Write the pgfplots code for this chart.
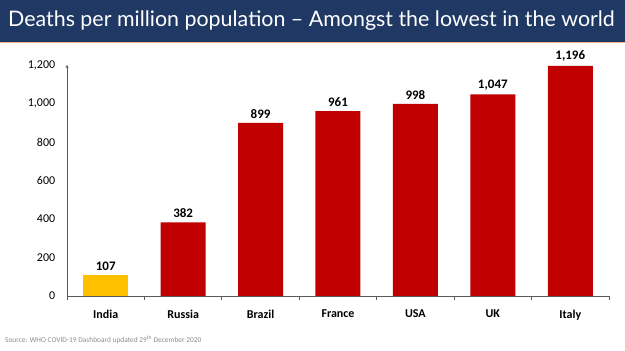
\documentclass[border=0pt]{standalone}
\usepackage{pgfplots}
\pgfplotsset{compat=1.18}
\usepackage{fontspec}
\setmainfont{Carlito}
\newfontfamily\titlefont{Lato}
\usetikzlibrary{arrows.meta}
\definecolor{navy}{HTML}{1F3864}
\definecolor{barred}{HTML}{C00000}
\definecolor{india}{HTML}{FFC000}
\definecolor{orangeline}{HTML}{F4B183}
\definecolor{axisgrey}{HTML}{595959}
\definecolor{srcgrey}{HTML}{8C8C8C}
\begin{document}
\begin{tikzpicture}[x=1pt,y=1pt]
\useasboundingbox (0,0) rectangle (625,351);
\path[fill=white] (0,0) rectangle (625,351);
\fill[navy] (0,309) rectangle (625,351);
\fill[orangeline] (0,307.5) rectangle (625,309);
\node[anchor=west,text=white,inner sep=0pt] at (8,330) {\titlefont\fontsize{21.4}{24}\selectfont Deaths per million population – Amongst the lowest in the world};
\node[anchor=base west,text=srcgrey,inner sep=0pt] at (5,8) {\fontsize{7.4}{9}\selectfont Source: WHO COVID-19 Dashboard updated 29\textsuperscript{th} December 2020};
\begin{axis}[
  at={(67pt,55pt)}, anchor=south west,
  scale only axis, width=542pt, height=231pt,
  xmin=-0.5, xmax=6.5, ymin=0, ymax=1200,
  axis x line*=bottom, axis y line*=left,
  x axis line style={-, draw=axisgrey, line width=0.8pt},
  y axis line style={-{Stealth[length=3pt,width=3pt]}, draw=axisgrey, line width=0.8pt},
  clip=false,
  xtick={0,...,6},
  xticklabels={India,Russia,Brazil,France,USA,UK,Italy},
  xticklabel style={font=\fontsize{12}{14}\selectfont\bfseries, yshift=-6pt},
  major x tick style={draw=none},
  minor xtick={-0.5,0.5,...,6.5},
  minor x tick style={draw=axisgrey, line width=0.8pt},
  tick align=outside,
  minor tick length=4pt,
  ytick={0,200,...,1200},
  yticklabel style={font=\fontsize{12}{14}\selectfont, xshift=-4pt},
  major y tick style={draw=none},
  /pgf/number format/assume math mode=true,
  /pgf/number format/1000 sep={,},
  ybar, bar width=45pt, bar shift=0pt,
  nodes near coords,
  every node near coord/.append style={font=\fontsize{13}{15}\selectfont\bfseries, text=black, yshift=1pt},
]
\addplot[fill=india, draw=none] coordinates {(0,107)};
\addplot[fill=barred, draw=none] coordinates {(1,382) (2,899) (3,961) (4,998) (5,1047) (6,1196)};
\end{axis}
\end{tikzpicture}
\end{document}
